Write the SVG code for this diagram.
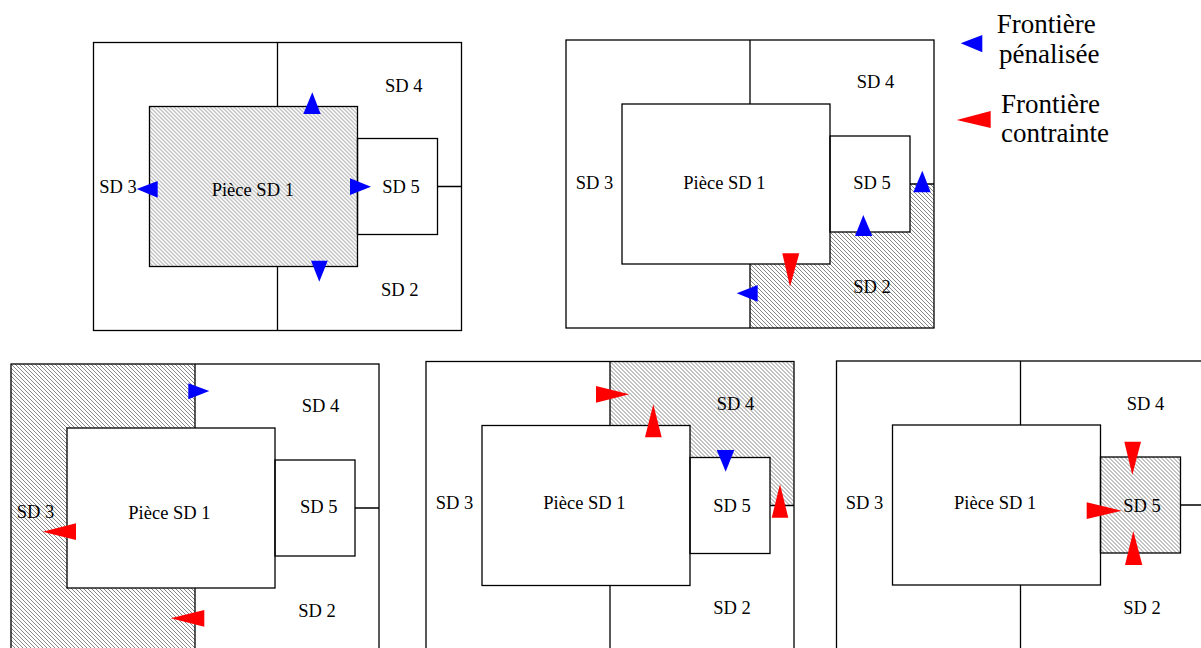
<svg xmlns="http://www.w3.org/2000/svg" width="1201" height="648" viewBox="0 0 1201 648">
<style>
.ln{fill:none;stroke:#000;stroke-width:1.3}
.h{fill:url(#hatch);stroke:none}
.b{fill:#0000ff}
.r{fill:#ff0000}
.t{font-family:"Liberation Serif","Times New Roman",serif;font-size:18.5px;fill:#000}
.lg{font-family:"Liberation Serif","Times New Roman",serif;font-size:27px;fill:#000}
</style>
<defs>
<pattern id="hatch" patternUnits="userSpaceOnUse" width="4" height="4">
<rect width="4" height="4" fill="#fff"/>
<path d="M-1,-1 L5,5 M3,-1 L5,1 M-1,3 L1,5" stroke="#6a6a6a" stroke-width="0.8"/>
</pattern>
<g id="frame">
<rect class="ln" x="0" y="0" width="368" height="288"/>
<rect class="ln" x="56" y="64" width="208" height="160"/>
<rect class="ln" x="264" y="96" width="80" height="96"/>
<path class="ln" d="M184,0 V64 M184,224 V288 M344,144 H368"/>
</g>
</defs>
<rect width="1201" height="648" fill="#fff"/>

<g id="panel1">
<g transform="translate(93.5,42.5)">
<rect class="h" x="56" y="64" width="208" height="160"/>
<use href="#frame"/>
</g>
<polygon class="b" points="312.3,92.3 303.3,114 320.7,114"/>
<polygon class="b" points="136.7,189 157.7,181 157.7,197.7"/>
<polygon class="b" points="371,186.7 350,178.3 350,195"/>
<polygon class="b" points="319.3,281.7 311,260.7 327.7,260.7"/>
<text class="t" x="385" y="91.5">SD 4</text>
<text class="t" x="382.3" y="193">SD 5</text>
<text class="t" x="99.3" y="193">SD 3</text>
<text class="t" x="211.7" y="196">Pièce SD 1</text>
<text class="t" x="381" y="296">SD 2</text>
</g>

<g id="panel2">
<g transform="translate(566,40)">
<polygon class="h" points="184,224 264,224 264,192 344,192 344,144 368,144 368,288 184,288"/>
<use href="#frame"/>
</g>
<polygon class="b" points="922.3,170.7 913.3,192.3 930.7,192.3"/>
<polygon class="b" points="863.3,215 855,236 872.3,236"/>
<polygon class="r" points="790,286.7 782.3,253.3 799.3,253.3"/>
<polygon class="b" points="736.7,293.3 757.7,285 757.7,301.7"/>
<text class="t" x="856.7" y="88.3">SD 4</text>
<text class="t" x="575.7" y="189.3">SD 3</text>
<text class="t" x="683.3" y="189.3">Pièce SD 1</text>
<text class="t" x="853.3" y="189.3">SD 5</text>
<text class="t" x="853.3" y="293.3">SD 2</text>
</g>

<g id="panel3">
<g transform="translate(11,364)">
<polygon class="h" points="0,0 184,0 184,64 56,64 56,224 184,224 184,288 0,288"/>
<use href="#frame"/>
</g>
<polygon class="b" points="209.3,391 188.3,383.3 188.3,399.3"/>
<polygon class="r" points="42.7,531.7 76,523.3 76,540"/>
<polygon class="r" points="170.7,618.3 204.3,610 204.3,626.7"/>
<text class="t" x="301.7" y="411.7">SD 4</text>
<text class="t" x="16.7" y="517.7">SD 3</text>
<text class="t" x="128.3" y="519">Pièce SD 1</text>
<text class="t" x="300" y="513.3">SD 5</text>
<text class="t" x="298.3" y="616.7">SD 2</text>
</g>

<g id="panel4">
<g transform="translate(426,361.5)">
<polygon class="h" points="184,0 368,0 368,144 344,144 344,96 264,96 264,64 184,64"/>
<use href="#frame"/>
</g>
<polygon class="r" points="629.3,394.3 596,386 596,402.7"/>
<polygon class="r" points="653.3,404.3 645,437.3 661.7,437.3"/>
<polygon class="b" points="725.7,471.7 716.7,450 734.3,450"/>
<polygon class="r" points="780,484.3 771.7,517.7 788.3,517.7"/>
<text class="t" x="716.7" y="410">SD 4</text>
<text class="t" x="435.7" y="509.3">SD 3</text>
<text class="t" x="543.3" y="509.3">Pièce SD 1</text>
<text class="t" x="713.3" y="511.7">SD 5</text>
<text class="t" x="713.3" y="614.3">SD 2</text>
</g>

<g id="panel5">
<g transform="translate(836.5,361)">
<rect class="h" x="264" y="96" width="80" height="96"/>
<use href="#frame"/>
</g>
<polygon class="r" points="1132.3,475 1124.3,441.7 1141,441.7"/>
<polygon class="r" points="1121.7,510.7 1086.7,502.3 1086.7,519"/>
<polygon class="r" points="1133.3,531 1125,565 1142.3,565"/>
<text class="t" x="1126.7" y="410">SD 4</text>
<text class="t" x="845.7" y="509.3">SD 3</text>
<text class="t" x="954" y="509.3">Pièce SD 1</text>
<text class="t" x="1123.3" y="511.7">SD 5</text>
<text class="t" x="1123.3" y="614.3">SD 2</text>
</g>

<g id="legend">
<polygon class="b" points="960.7,43.3 982.3,35 982.3,52.3"/>
<text class="lg" x="996.7" y="32.7">Frontière</text>
<text class="lg" x="999" y="63.3">pénalisée</text>
<polygon class="r" points="956.7,120 990.7,111 990.7,128"/>
<text class="lg" x="1001" y="113.3">Frontière</text>
<text class="lg" x="1001" y="141.7">contrainte</text>
</g>
<g id="connectors"/>
</svg>
